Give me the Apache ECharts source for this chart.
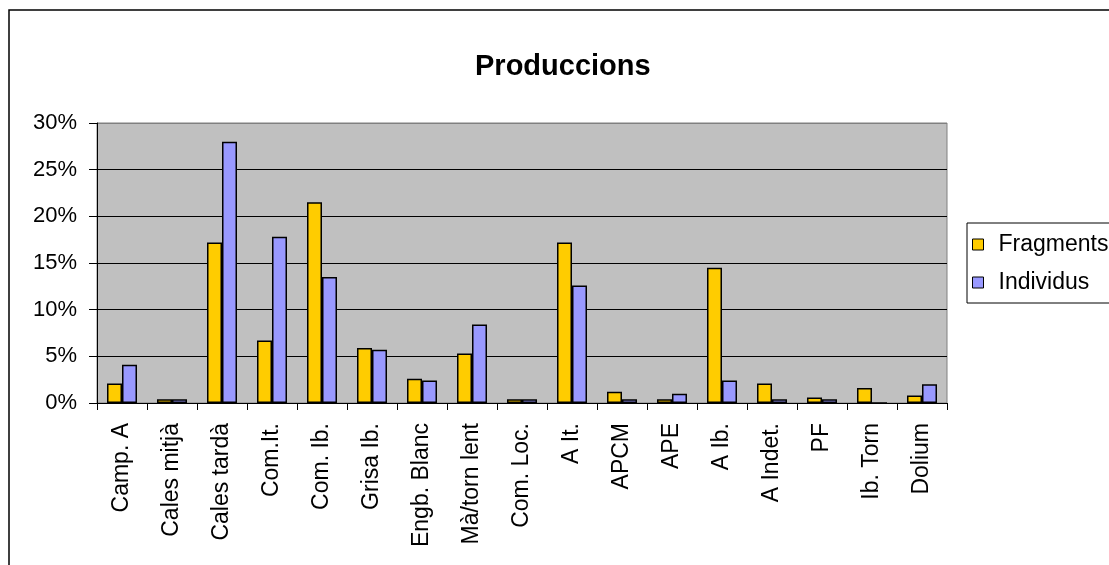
<!DOCTYPE html>
<html>
<head>
<meta charset="utf-8">
<script src="https://cdn.jsdelivr.net/npm/echarts@6/dist/echarts.min.js"></script>
<style>
html,body{margin:0;padding:0;background:#fff;}
#c{width:1109px;height:565px;}
</style>
</head>
<body>
<div id="c"></div>
<script>
const categories = ["Camp. A","Cales mitjà","Cales tardà","Com.It.","Com. Ib.","Grisa Ib.","Engb. Blanc","Mà/torn lent","Com. Loc.","A It.","APCM","APE","A Ib.","A Indet.","PF","Ib. Torn","Dolium"];
const fragments = [2.1, 0.4, 17.2, 6.7, 21.5, 5.9, 2.6, 5.3, 0.4, 17.2, 1.2, 0.4, 14.5, 2.1, 0.6, 1.6, 0.8];
const individus = [4.1, 0.4, 28.0, 17.8, 13.5, 5.7, 2.4, 8.4, 0.4, 12.6, 0.4, 1.0, 2.4, 0.4, 0.4, 0, 2.0];
const yTicks = [0, 5, 10, 15, 20, 25, 30];
const titleText = "Produccions";
const seriesNames = ["Fragments", "Individus"];

const FONT = "Liberation Sans, Arial, sans-serif";
const chart = echarts.init(document.getElementById('c'), null, {renderer: 'canvas'});
chart.setOption({
  animation: false,
  backgroundColor: '#fff',
  title: {
    text: titleText, left: 470, top: 47,
    textStyle: {fontFamily: FONT, fontSize: 29, fontWeight: 'bold', color: '#000'}
  },
  legend: {
    orient: 'vertical', left: 967, top: 223,
    data: seriesNames,
    icon: 'rect', itemWidth: 11, itemHeight: 11, itemGap: 15,
    borderColor: '#000', borderWidth: 1, padding: [10, 40, 9, 5],
    textStyle: {fontFamily: FONT, fontSize: 23, color: '#000', padding: [0,0,0,10]},
    itemStyle: {borderColor: '#000', borderWidth: 1}
  },
  grid: {
    left: 97, top: 123, width: 850, height: 280,
    show: true, backgroundColor: '#C0C0C0', borderColor: '#808080', borderWidth: 1
  },
  xAxis: {
    type: 'category', data: categories,
    axisLine: {show: true, lineStyle: {color: '#000', width: 1}},
    axisTick: {show: true, length: 7, alignWithLabel: false, lineStyle: {color: '#000'}},
    axisLabel: {rotate: 90, margin: 20, interval: 0, fontFamily: FONT, fontSize: 23, color: '#000'},
    splitLine: {show: false}
  },
  yAxis: {
    type: 'value', min: yTicks[0], max: yTicks[yTicks.length-1], interval: 5,
    axisLine: {show: true, lineStyle: {color: '#000', width: 1}},
    axisTick: {show: true, length: 8, lineStyle: {color: '#000'}},
    axisLabel: {formatter: '{value}%', margin: 20, fontFamily: FONT, fontSize: 22, color: '#000'},
    splitLine: {show: true, lineStyle: {color: ['#000','#000','#000','#000','#000','#000','#808080'], width: 1}}
  },
  series: [
    {name: seriesNames[0], type: 'bar', data: fragments, barGap: '0%', barCategoryGap: '40%',
     itemStyle: {color: '#FFCC00', borderColor: '#000', borderWidth: 1.5}},
    {name: seriesNames[1], type: 'bar', data: individus, barGap: '0%', barCategoryGap: '40%',
     itemStyle: {color: '#9999FF', borderColor: '#000', borderWidth: 1.5}}
  ],
  graphic: [
    {type: 'rect', shape: {x: 9, y: 10, width: 1200, height: 700}, silent: true,
     style: {fill: 'none', stroke: '#000', lineWidth: 1.5}, z: -1}
  ]
});
</script>
</body>
</html>
